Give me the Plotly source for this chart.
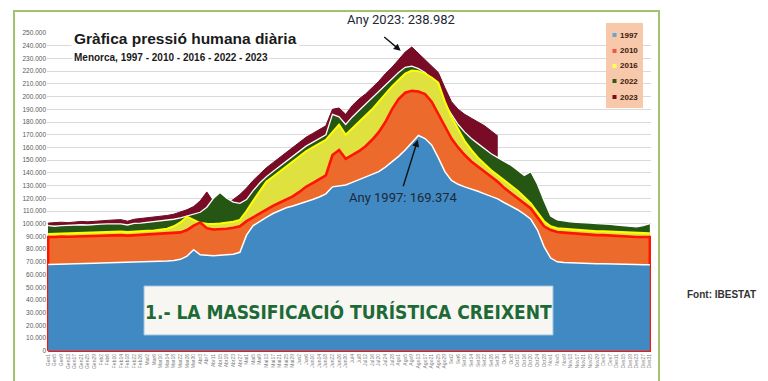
import plotly.graph_objects as go

# ---- data (thousands of people) ----
days = list(range(1, 366, 4))
tick_labels = [
    "Gen1", "Gen5", "Gen9", "Gen13", "Gen17", "Gen21", "Gen25", "Gen29",
    "Feb2", "Feb6", "Feb10", "Feb14", "Feb18", "Feb22", "Feb26",
    "Mar2", "Mar6", "Mar10", "Mar14", "Mar18", "Mar22", "Mar26", "Mar30",
    "Abr3", "Abr7", "Abr11", "Abr15", "Abr19", "Abr23", "Abr27",
    "Mai1", "Mai5", "Mai9", "Mai13", "Mai17", "Mai21", "Mai25", "Mai29",
    "Jun2", "Jun6", "Jun10", "Jun14", "Jun18", "Jun22", "Jun26", "Jun30",
    "Jul4", "Jul8", "Jul12", "Jul16", "Jul20", "Jul24", "Jul28",
    "Ago1", "Ago5", "Ago9", "Ago13", "Ago17", "Ago21", "Ago25", "Ago29",
    "Set2", "Set6", "Set10", "Set14", "Set18", "Set22", "Set26", "Set30",
    "Oct4", "Oct8", "Oct12", "Oct16", "Oct20", "Oct24", "Oct28",
    "Nov1", "Nov5", "Nov9", "Nov13", "Nov17", "Nov21", "Nov25", "Nov29",
    "Des3", "Des7", "Des11", "Des15", "Des19", "Des23", "Des27", "Des31",
]

y1997 = [
    68.0, 68.3, 68.6, 68.4, 68.6, 68.9, 68.7, 69.0,
    69.1, 69.2, 69.4, 69.3, 69.5, 69.7, 69.8,
    69.9, 70.1, 70.3, 70.6, 71.0, 72.0, 74.5, 79.5,
    75.5, 75.0, 74.8, 75.2, 75.5, 76.0, 77.5,
    91.0, 98.5, 102.0, 105.0, 108.0, 110.5, 112.5, 114.0,
    115.5, 117.0, 119.0, 121.0, 123.5, 129.0, 129.5, 130.5,
    132.5, 134.5, 136.5, 138.5, 141.0, 144.5, 148.5,
    153.0, 158.0, 163.5, 169.374, 167.0, 162.0, 152.0, 141.0,
    134.0, 131.0, 129.0, 127.5, 125.5, 123.5, 121.5, 119.5,
    116.5, 114.0, 111.0, 107.5, 103.5, 95.0, 82.0,
    73.0, 70.0, 69.5, 69.2, 69.0, 69.0, 68.7, 68.5,
    68.5, 68.5, 68.2, 68.0, 68.2, 68.0, 67.8, 67.8,
]
y2010 = [
    89.5, 89.6, 90.0, 89.8, 90.0, 90.3, 90.1, 90.5,
    90.6, 90.8, 91.0, 91.0, 90.6, 90.9, 91.2,
    91.5, 91.6, 92.0, 92.2, 92.6, 93.2, 95.0, 98.5,
    101.0, 96.5, 95.5, 95.5, 96.0, 96.8, 98.0,
    102.0, 105.0, 108.0, 111.5, 114.0, 116.5, 119.0, 121.5,
    125.0, 129.0, 132.0, 135.0, 138.0, 154.0, 158.0, 151.0,
    154.0, 157.0, 161.0, 166.0, 172.0, 180.0, 190.0,
    198.0, 203.0, 204.5, 204.0, 202.0, 196.0, 186.0, 176.0,
    167.0, 160.0, 154.0, 149.0, 145.0, 141.0, 137.0, 133.0,
    128.0, 124.0, 120.0, 116.0, 112.0, 105.0, 98.0,
    95.0, 93.5, 93.0, 92.5, 92.0, 91.8, 91.5, 91.0,
    91.0, 90.6, 90.5, 90.0, 89.8, 89.5, 89.5, 89.5,
]
y2016 = [
    92.0, 92.2, 92.6, 92.5, 92.8, 93.0, 93.0, 93.3,
    93.4, 93.6, 93.8, 93.8, 93.5, 94.0, 94.2,
    94.5, 94.7, 95.2, 96.0, 98.0, 101.0, 105.5, 103.0,
    100.5, 100.0, 99.8, 100.2, 100.8, 101.5, 103.0,
    110.0, 118.0, 126.0, 133.0, 137.0, 141.0, 145.0, 149.0,
    153.0, 157.0, 160.0, 163.0, 166.0, 172.0, 178.0, 170.0,
    175.0, 180.0, 185.0, 190.0, 196.0, 202.0, 208.0,
    213.0, 218.0, 220.5, 220.0, 218.0, 215.0, 211.0, 196.0,
    184.0, 174.0, 165.0, 158.0, 152.0, 147.0, 142.0, 138.0,
    134.0, 130.0, 126.0, 121.0, 116.0, 109.0, 102.0,
    98.0, 96.5, 96.0, 95.5, 95.0, 94.8, 94.5, 94.0,
    94.0, 93.8, 93.5, 93.2, 93.0, 92.8, 92.5, 92.5,
]
y2022 = [
    98.5, 98.0, 98.5, 98.8, 99.0, 99.2, 99.0, 99.5,
    99.6, 99.8, 100.0, 99.8, 99.0, 100.2, 100.5,
    101.0, 101.5, 102.0, 102.5, 103.5, 104.5, 106.0, 108.0,
    109.0, 113.0, 120.0, 124.5, 120.0, 117.0, 116.0,
    119.0, 126.0, 132.0, 137.0, 141.0, 145.0, 149.0, 153.0,
    157.0, 161.0, 164.0, 167.0, 170.0, 186.0, 184.0, 178.0,
    184.0, 189.0, 194.0, 199.0, 204.0, 209.0, 214.0,
    219.0, 223.0, 224.0, 222.0, 219.0, 214.0, 206.0, 194.0,
    186.0, 178.0, 172.0, 167.0, 163.0, 159.0, 155.0, 152.0,
    149.0, 146.0, 142.0, 138.0, 141.0, 131.0, 118.0,
    106.0, 103.0, 102.0, 101.5, 101.0, 101.0, 100.5, 100.0,
    100.0, 99.5, 99.0, 98.5, 97.5, 97.5, 98.5, 100.0,
]
y2023 = [
    100.5, 100.8, 101.2, 100.8, 101.3, 101.8, 101.5, 102.0,
    102.5, 102.8, 103.0, 103.2, 102.0, 103.5, 104.0,
    104.5, 105.0, 105.5, 106.5, 107.5, 109.0, 111.0, 113.5,
    118.0, 125.0, 117.0, 115.0, 116.0, 119.0, 123.0,
    128.0, 134.0, 139.0, 144.0, 148.0, 152.0, 156.0, 160.0,
    164.0, 168.0, 171.0, 174.0, 177.0, 190.0, 191.0, 186.0,
    193.0, 198.0, 202.0, 207.0, 212.0, 218.0, 223.0,
    229.0, 235.0, 238.982, 234.0, 229.0, 224.0, 219.0, 207.0,
    196.0, 190.0, 186.0, 183.0, 180.0, 177.0, 173.0, 169.0,
]
days2023 = days[:len(y2023)]

series_names = ["1997", "2010", "2016", "2022", "2023"]
legend_colors = ["#5ea8db", "#ea5a48", "#ffff55", "#2e5a1c", "#7b0a1e"]

def k(v):
    return [x * 1000 for x in v]

fig = go.Figure()

# back to front
fig.add_trace(go.Scatter(x=days2023, y=k(y2023), name="2023", mode="lines",
                         fill="tozeroy", fillcolor="#780b26",
                         line=dict(color="#6e0a22", width=1)))
fig.add_trace(go.Scatter(x=days, y=k(y2022), name="2022", mode="lines",
                         fill="tozeroy", fillcolor="#265614",
                         line=dict(color="#ffffff", width=1.3)))
fig.add_trace(go.Scatter(x=days, y=k(y2016), name="2016", mode="lines",
                         fill="tozeroy", fillcolor="#dfe23e",
                         line=dict(color="#ffff00", width=2)))
# 2010: closed outline (edges + baseline) in red
x10 = [days[0]] + days + [days[-1], days[0]]
y10 = [0] + k(y2010) + [0, 0]
fig.add_trace(go.Scatter(x=x10, y=y10, name="2010", mode="lines",
                         fill="toself", fillcolor="#ec6a2c",
                         line=dict(color="#ff1400", width=2.6)))
fig.add_trace(go.Scatter(x=days, y=k(y1997), name="1997", mode="lines",
                         fill="tozeroy", fillcolor="#4189c2",
                         line=dict(color="#ffffff", width=1.5)))

# layout geometry helpers (pixel -> paper)
L, R, T, B = 39, 643, 25, 344
def px(x):
    return (x - L) / (R - L)
def py(y):
    return (B - y) / (B - T)

shapes = []
annotations = []

# outer green frame
shapes.append(dict(type="rect", xref="paper", yref="paper",
                   x0=px(6), x1=px(651), y0=py(374), y1=py(3),
                   line=dict(color="#a3c26e", width=2), layer="above"))

# legend box
shapes.append(dict(type="rect", xref="paper", yref="paper",
                   x0=px(598), x1=px(635), y0=py(100), y1=py(15),
                   fillcolor="#f7c8aa", line=dict(width=0), layer="above"))
leg_y = [27, 43, 58, 73, 89]
for name, col, yy in zip(series_names, legend_colors, leg_y):
    shapes.append(dict(type="rect", xref="paper", yref="paper",
                       x0=px(604.5), x1=px(608.5), y0=py(yy + 2), y1=py(yy - 2),
                       fillcolor=col, line=dict(width=0), layer="above"))
    annotations.append(dict(text="<b>" + name + "</b>", xref="paper", yref="paper",
                            x=px(610), y=py(yy), xanchor="left", yanchor="middle",
                            showarrow=False,
                            font=dict(family="Liberation Sans, Arial", size=8, color="#3a1a10")))

# bottom banner box
shapes.append(dict(type="rect", xref="paper", yref="paper",
                   x0=px(136), x1=px(545), y0=py(327), y1=py(278),
                   fillcolor="#f8f6f3", line=dict(color="#9cc3e0", width=1), layer="above"))
annotations.append(dict(text="<b>1.- LA MASSIFICACIÓ TURÍSTICA CREIXENT</b>",
                        xref="paper", yref="paper", x=px(340.5), y=py(303),
                        xanchor="center", yanchor="middle", showarrow=False,
                        font=dict(family="Liberation Sans Narrow, DejaVu Sans Condensed, Roboto Condensed, Roboto",
                                  size=19, color="#1d6a36")))

# title & subtitle
annotations.append(dict(text="<b>Gràfica pressió humana diària</b>", xref="paper", yref="paper",
                        x=px(63), y=py(30.5), xanchor="left", yanchor="middle", showarrow=False,
                        bgcolor="#ffffff", borderpad=2,
                        font=dict(family="Liberation Sans, Arial", size=15.5, color="#1a1a1a")))
annotations.append(dict(text="<b>Menorca, 1997 - 2010 - 2016 - 2022 - 2023</b>", xref="paper", yref="paper",
                        x=px(64), y=py(50), xanchor="left", yanchor="middle", showarrow=False,
                        bgcolor="#ffffff", borderpad=1,
                        font=dict(family="Liberation Sans, Arial", size=10, color="#1a1a1a")))

# peak annotations
ann_font = dict(family="Roboto, Liberation Sans", size=13, color="#1c2836")
annotations.append(dict(text="Any 2023: 238.982", xref="paper", yref="paper",
                        x=px(393), y=py(12), xanchor="center", yanchor="middle",
                        showarrow=False, font=ann_font))
annotations.append(dict(text="", x=214.3, y=236000, xref="x", yref="y",
                        ax=-18, ay=-15, showarrow=True, arrowhead=2, arrowsize=1,
                        arrowwidth=1.4, arrowcolor="#111111"))
annotations.append(dict(text="Any 1997: 169.374", xref="paper", yref="paper",
                        x=px(395), y=py(190), xanchor="center", yanchor="middle",
                        showarrow=False, font=ann_font))
annotations.append(dict(text="", x=224.6, y=166000, xref="x", yref="y",
                        ax=-15, ay=48, showarrow=True, arrowhead=2, arrowsize=1,
                        arrowwidth=1.4, arrowcolor="#111111"))

# source
annotations.append(dict(text="<b>Font: IBESTAT</b>", xref="paper", yref="paper",
                        x=px(713.5), y=py(286), xanchor="center", yanchor="middle",
                        showarrow=False,
                        font=dict(family="Liberation Sans, Arial", size=10, color="#333333")))

fig.update_layout(
    width=768, height=381,
    margin=dict(l=L, r=768 - R, t=T, b=381 - B),
    paper_bgcolor="#ffffff", plot_bgcolor="#ffffff",
    separators=",.",
    showlegend=False,
    shapes=shapes, annotations=annotations,
    xaxis=dict(range=[0.3, 365.7], tickmode="array", tickvals=days, ticktext=tick_labels,
               tickangle=-90, tickfont=dict(family="Liberation Sans, Arial", size=5, color="#808080"),
               showgrid=False, zeroline=False, showline=False, ticks=""),
    yaxis=dict(range=[-900, 250000], tickmode="linear", tick0=0, dtick=10000,
               tickformat=",d", tickfont=dict(family="Liberation Sans, Arial", size=6.5, color="#595959"),
               gridcolor="#d9d9d9", gridwidth=1, zeroline=False, showline=False, ticks=""),
)

fig.write_html("out.html")
